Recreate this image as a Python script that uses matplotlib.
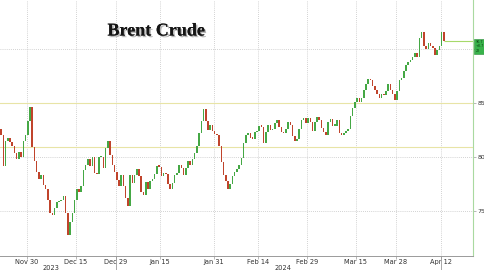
import matplotlib
matplotlib.use("Agg")
import matplotlib.pyplot as plt
import matplotlib.patheffects as pe
import numpy as np
import pandas as pd

# Brent crude, two candles per trading day, Nov 22 2023 - Apr 12 2024
first_open = 82.6
closes = [
    82.0, 79.2, 81.5, 81.8, 81.4, 81.0, 80.4, 79.8, 80.5, 80.0,
    81.5, 82.0, 83.3, 84.6, 80.9, 79.6, 78.6, 78.0, 78.3, 77.4,
    77.0, 76.0, 74.8, 74.6, 75.3, 75.8, 75.9, 76.0, 76.4, 74.8,
    72.8, 74.0, 74.8, 76.0, 77.0, 76.8, 77.3, 78.8, 79.3, 79.8,
    79.2, 80.0, 78.5, 78.4, 80.0, 80.0, 79.0, 80.8, 81.5, 80.2,
    79.3, 78.6, 77.9, 77.3, 78.3, 77.3, 76.2, 75.5, 78.3, 77.6,
    78.3, 78.9, 78.2, 76.8, 76.5, 77.7, 77.0, 77.8, 78.0, 78.4,
    79.2, 79.1, 78.2, 78.5, 78.4, 77.5, 77.0, 77.6, 78.3, 78.5,
    79.3, 79.0, 78.3, 79.0, 79.6, 79.3, 79.8, 80.4, 81.0, 82.2,
    83.3, 84.4, 83.3, 82.5, 83.0, 82.4, 82.1, 82.0, 81.0, 79.5,
    78.3, 77.8, 77.0, 77.5, 78.2, 78.6, 78.9, 79.3, 79.9, 81.3,
    82.0, 82.2, 81.8, 81.7, 82.3, 82.4, 82.9, 82.8, 81.3, 82.3,
    83.0, 82.5, 82.6, 83.1, 83.4, 82.8, 82.3, 82.2, 82.6, 83.2,
    83.0, 81.9, 81.5, 81.7, 82.6, 83.4, 83.6, 83.1, 83.6, 83.2,
    82.4, 83.2, 83.7, 83.4, 82.7, 82.3, 82.0, 83.2, 83.5, 82.9,
    82.9, 83.4, 82.2, 82.0, 82.2, 82.4, 82.6, 83.8, 84.5, 85.1,
    85.5, 85.1, 85.5, 86.2, 86.8, 87.2, 87.1, 86.6, 86.2, 85.8,
    85.5, 85.8, 85.7, 86.1, 86.8, 86.2, 85.8, 85.3, 86.1, 87.1,
    87.3, 88.0, 88.5, 88.8, 89.0, 89.3, 89.6, 89.3, 91.0, 91.6,
    90.3, 90.0, 90.6, 90.3, 90.1, 89.4, 89.9, 90.3, 91.6, 90.7,
]
holidays = ["2023-12-25", "2024-01-01", "2024-03-29"]
tick_dates = ["2023-11-30", "2023-12-15", "2023-12-29", "2024-01-15", "2024-01-31",
              "2024-02-14", "2024-02-29", "2024-03-15", "2024-03-28", "2024-04-12"]
tick_labels = ["Nov 30", "Dec 15", "Dec 29", "Jan 15", "Jan 31",
               "Feb 14", "Feb 29", "Mar 15", "Mar 28", "Apr 12"]
year_labels = ["2023", "2024"]
price_ticks = [75, 80, 85, 90]
price_labels = ["75", "80", "85", ""]   # 90 sits behind the last-price tag
ref_levels = [85.0, 80.9]

UP = "#45a845"
DOWN = "#c0442c"
GRID = "#c4c4c4"

days = pd.bdate_range("2023-11-22", "2024-04-12")
days = days[~days.isin(pd.to_datetime(holidays))]
per_day = len(closes) // len(days)

closes = np.array(closes)
opens = np.concatenate([[first_open], closes[:-1]])
idx = np.arange(len(closes))
tick_pos = [per_day * days.get_loc(pd.Timestamp(d)) - 0.5 for d in tick_dates]

fig = plt.figure(figsize=(4.85, 2.7), dpi=100)
ax = fig.add_axes([0.0, 0.052, 473 / 485, 0.948])

x_lo, x_hi = -0.5, 212.1
ax.set_xlim(x_lo, x_hi)
ax.set_ylim(70.83, 94.54)

# grid
for p in tick_pos:
    ax.axvline(p, color=GRID, lw=0.6, ls=(0, (1, 1.5)), zorder=0)
for p in price_ticks:
    ax.axhline(p, color=GRID, lw=0.6, ls=(0, (1, 1.5)), zorder=0)
for lvl in ref_levels:
    ax.axhline(lvl, color="#e8e4a6", lw=0.8, zorder=1)

# candles
up = closes >= opens
bottoms = np.minimum(opens, closes)
heights = np.maximum(np.abs(closes - opens), 0.12)
ax.bar(idx[up], heights[up], bottom=bottoms[up], width=0.7, color=UP, lw=0, zorder=3)
ax.bar(idx[~up], heights[~up], bottom=bottoms[~up], width=0.7, color=DOWN, lw=0, zorder=3)

# last price line + tag
last = closes[-1]
ax.hlines(last, idx[-1], x_hi, color="#a6d96a", lw=0.8, zorder=2)
ax.text(1.005, last - 0.45, "90.7\n+0.7\n22", transform=ax.get_yaxis_transform(),
        fontsize=2.4, color="#0d3d12", ha="left", va="center", linespacing=1.1,
        clip_on=False,
        bbox=dict(boxstyle="square,pad=0.3", fc="#38b24a", ec="#2b8c39", lw=0.4))

# axes styling
for s in ["left", "top"]:
    ax.spines[s].set_visible(False)
ax.spines["bottom"].set_color("#9a9a9a")
ax.spines["bottom"].set_linewidth(0.7)
ax.spines["right"].set_color("#a9d9a0")
ax.spines["right"].set_linewidth(0.8)

ax.set_xticks(tick_pos)
ax.set_xticklabels(tick_labels)
ax.tick_params(axis="x", length=2, width=0.5, color="#9a9a9a", labelsize=4.8,
               labelcolor="#333333", pad=0.5)
ax.yaxis.tick_right()
ax.set_yticks(price_ticks)
ax.set_yticklabels(price_labels)
ax.tick_params(axis="y", length=2, width=0.5, color="#9a9a9a", labelsize=4.5,
               labelcolor="#333333", pad=1.5)

# year row
xt = ax.get_xaxis_transform()
sep = [tick_pos[2], tick_pos[-1]]
for p in sep:
    ax.plot([p, p], [0, -0.06], transform=xt, color="#9a9a9a", lw=0.6, clip_on=False)
ax.text((tick_pos[0] + tick_pos[1]) / 2, -0.048, year_labels[0], transform=xt,
        ha="center", va="center", fontsize=4.8, color="#333333")
ax.text((tick_pos[5] + tick_pos[6]) / 2, -0.048, year_labels[1], transform=xt,
        ha="center", va="center", fontsize=4.8, color="#333333")

fig.text(156 / 485, 1 - 31 / 270, "Brent Crude", ha="center", va="center",
         family="Liberation Serif", weight="bold", fontsize=13, color="#151515",
         path_effects=[pe.withSimplePatchShadow(offset=(1.2, -1.2), shadow_rgbFace="#888888",
                                                alpha=0.6), pe.Normal()])

fig.savefig("out.png", dpi=100)
plt.close(fig)
